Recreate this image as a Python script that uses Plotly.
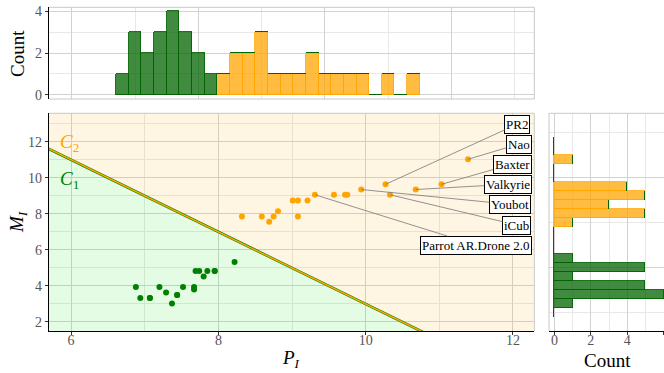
import numpy as np
import plotly.graph_objects as go

# ---------------- data ----------------
c1_x = [6.88, 6.94, 7.07, 7.07, 7.20, 7.29, 7.37, 7.44, 7.44, 7.52, 7.67, 7.67, 7.69, 7.74, 7.80, 7.85, 7.95, 7.95, 8.22]
c1_y = [3.94, 3.33, 3.33, 3.33, 3.94, 3.64, 3.03, 3.50, 3.50, 3.94, 3.94, 3.80, 4.83, 4.83, 4.53, 4.83, 4.83, 4.83, 5.33]
c2_x = [8.32, 8.59, 8.69, 8.75, 8.81, 9.01, 9.08, 9.08, 9.21, 9.31, 9.57, 9.72, 9.75, 9.94, 10.27, 10.33, 10.68, 11.03, 11.39]
c2_y = [7.85, 7.85, 7.56, 7.85, 8.14, 8.74, 8.74, 7.85, 8.74, 9.06, 9.06, 9.06, 9.06, 9.35, 9.64, 9.06, 9.35, 9.64, 11.03]

label_names = ["PR2", "Nao", "Baxter", "Valkyrie", "Youbot", "iCub", "Parrot AR.Drone 2.0"]
label_px = [10.27, 11.39, 11.03, 10.68, 9.94, 10.33, 9.31]
label_py = [9.64, 11.03, 9.64, 9.35, 9.35, 9.06, 9.06]
# label box centres (layout positions)
box_x = [12.06, 12.08, 11.99, 11.93, 11.96, 12.05, 11.50]
box_y = [12.98, 11.87, 10.76, 9.64, 8.53, 7.38, 6.27]

# decision boundary  P + M/2 = 11.5
boundary_const = 23.0
boundary_slope = -2.0

x_bin_start, x_bin_size, x_bin_n = 6.7, 0.2, 24
y_bin_start, y_bin_size, y_bin_n = 2.27, 0.5, 20

GREEN = "#008000"
DKGREEN = "#006400"
ORANGE = "#FFA500"
FONT = "Liberation Serif"
TICKC = "#555555"
GRID = "#d2d2d2"
MINOR = "#e8e8e8"
BORDER = "#c8c8c8"

# ---------------- histograms ----------------
xedges = x_bin_start + x_bin_size * np.arange(x_bin_n + 1)
yedges = y_bin_start + y_bin_size * np.arange(y_bin_n + 1)
xc = (xedges[:-1] + xedges[1:]) / 2
yc = (yedges[:-1] + yedges[1:]) / 2
hx1, _ = np.histogram(c1_x, bins=xedges)
hx2, _ = np.histogram(c2_x, bins=xedges)
hy1, _ = np.histogram(c1_y, bins=yedges)
hy2, _ = np.histogram(c2_y, bins=yedges)

fig = go.Figure()

# background regions
xa, xb = 5.0, 13.5
fig.add_trace(go.Scatter(
    x=[xa, xb, xb, xa], y=[boundary_const + boundary_slope * xa, boundary_const + boundary_slope * xb, 20, 20],
    fill="toself", fillcolor="rgba(255,165,0,0.11)", line=dict(width=0), mode="lines",
    hoverinfo="skip", showlegend=False, xaxis="x", yaxis="y"))
fig.add_trace(go.Scatter(
    x=[xa, xb, xa], y=[boundary_const + boundary_slope * xa, boundary_const + boundary_slope * xb, -10],
    fill="toself", fillcolor="rgba(0,230,0,0.11)", line=dict(width=0), mode="lines",
    hoverinfo="skip", showlegend=False, xaxis="x", yaxis="y"))
# boundary line
for col, w in [(GREEN, 2.6), (ORANGE, 1.6)]:
    fig.add_trace(go.Scatter(
        x=[xa, xb], y=[boundary_const + boundary_slope * xa, boundary_const + boundary_slope * xb],
        mode="lines", line=dict(color=col, width=w), hoverinfo="skip", showlegend=False,
        xaxis="x", yaxis="y"))

# points
fig.add_trace(go.Scatter(x=c1_x, y=c1_y, mode="markers", marker=dict(color=GREEN, size=6),
                         showlegend=False, xaxis="x", yaxis="y"))
fig.add_trace(go.Scatter(x=c2_x, y=c2_y, mode="markers", marker=dict(color=ORANGE, size=6),
                         showlegend=False, xaxis="x", yaxis="y"))

# top histogram (stacked: orange then green)
fig.add_trace(go.Bar(x=xc, y=hx2, width=x_bin_size, marker=dict(color="rgba(255,165,0,0.75)",
                     line=dict(color=ORANGE, width=0.8)), showlegend=False, xaxis="x2", yaxis="y2"))
fig.add_trace(go.Bar(x=xc, y=hx1, width=x_bin_size, marker=dict(color="rgba(0,100,0,0.75)",
                     line=dict(color=DKGREEN, width=0.9)), showlegend=False, xaxis="x2", yaxis="y2"))
# right histogram
fig.add_trace(go.Bar(y=yc, x=hy2, width=y_bin_size, orientation="h", marker=dict(color="rgba(255,165,0,0.75)",
                     line=dict(color=ORANGE, width=0.8)), showlegend=False, xaxis="x3", yaxis="y3"))
fig.add_trace(go.Bar(y=yc, x=hy1, width=y_bin_size, orientation="h", marker=dict(color="rgba(0,100,0,0.75)",
                     line=dict(color=DKGREEN, width=0.9)), showlegend=False, xaxis="x3", yaxis="y3"))

# ---------------- layout ----------------
W, H = 664, 373

def fx(px):
    return min(max(px / W, 0.0), 1.0)

def fy(py):
    return min(max(1 - py / H, 0.0), 1.0)

main_x = [fx(49), fx(534.3)]
main_y = [fy(331), fy(113.3)]
top_y = [fy(99), fy(7.3)]
right_x = [fx(549), 1.0]

tickfont = dict(family=FONT, size=14, color=TICKC)
titlefont = dict(family=FONT, size=19, color="black")

def grid_axis(**kw):
    d = dict(showgrid=True, gridcolor=GRID, gridwidth=1, zeroline=False, tickfont=tickfont,
             ticks="outside", ticklen=3, tickcolor="#333333", tickwidth=1, automargin=False)
    d.update(kw)
    return d

fig.update_layout(
    width=W, height=H, margin=dict(l=0, r=0, t=0, b=0, autoexpand=False),
    paper_bgcolor="white", plot_bgcolor="rgba(0,0,0,0)",
    barmode="stack", bargap=0, showlegend=False,
    font=dict(family=FONT),
    xaxis=grid_axis(domain=main_x, range=[5.70, 12.29], tickvals=[6, 8, 10, 12], anchor="y",
                    minor=dict(dtick=1, tick0=0, showgrid=True, gridcolor=MINOR, gridwidth=0.8),
                    showline=True, linecolor="black", linewidth=1.2, ticklabelstandoff=-7),
    yaxis=grid_axis(domain=main_y, range=[1.5, 13.58], tickvals=[2, 4, 6, 8, 10, 12], anchor="x",
                    minor=dict(dtick=1, tick0=0, showgrid=True, gridcolor=MINOR, gridwidth=0.8),
                    showline=True, linecolor="black", linewidth=1.2),
    xaxis2=grid_axis(domain=main_x, range=[5.64, 13.31], dtick=2, tick0=0, anchor="y2",
                     showticklabels=False, ticks="",
                     minor=dict(dtick=1, tick0=0, showgrid=True, gridcolor=MINOR, gridwidth=0.8)),
    yaxis2=grid_axis(domain=top_y, range=[-0.2, 4.2], tickvals=[0, 2, 4], anchor="x2",
                     minor=dict(dtick=1, tick0=0, showgrid=True, gridcolor=MINOR, gridwidth=0.8),
                     showline=True, linecolor="black", linewidth=1.2),
    xaxis3=grid_axis(domain=right_x, range=[-0.3, 6.02], tickvals=[0, 2, 4, 6], anchor="y3",
                     minor=dict(dtick=1, tick0=0, showgrid=True, gridcolor=MINOR, gridwidth=0.8),
                     showline=True, linecolor="black", linewidth=1.2, ticklabelstandoff=-7),
    yaxis3=grid_axis(domain=main_y, range=[1.5, 13.58], dtick=5, tick0=0, anchor="x3",
                     showticklabels=False, ticks="",
                     minor=dict(dtick=2.5, tick0=0, showgrid=True, gridcolor=MINOR, gridwidth=0.8)),
)

# axis titles
def ptitle(text, px, py, angle=0):
    fig.add_annotation(x=fx(px), y=fy(py), xref="paper", yref="paper", text=text,
                       showarrow=False, textangle=angle, font=titlefont,
                       xanchor="center", yanchor="middle")

ptitle("<i>P</i><sub><i>I</i></sub>", 291, 359)
ptitle("<i>M</i><sub><i>I</i></sub>", 18, 222, -90)
ptitle("Count", 18, 54, -90)
ptitle("Count", 607, 360)

# panel borders (non-axis sides)
def hline(xref, yref, y):
    fig.add_shape(type="line", xref=xref, yref=yref, x0=0, x1=1, y0=y, y1=y,
                  line=dict(color=BORDER, width=1), layer="above")

def vline(xref, yref, x):
    fig.add_shape(type="line", xref=xref, yref=yref, x0=x, x1=x, y0=0, y1=1,
                  line=dict(color=BORDER, width=1), layer="above")

hline("x domain", "y domain", 1); vline("x domain", "y domain", 1)
hline("x2 domain", "y2 domain", 1); hline("x2 domain", "y2 domain", 0); vline("x2 domain", "y2 domain", 1)
hline("x3 domain", "y3 domain", 1); vline("x3 domain", "y3 domain", 0)

# class labels
fig.add_annotation(x=5.98, y=11.93, xref="x", yref="y", text="<i>C</i><sub>2</sub>", showarrow=False,
                   font=dict(family=FONT, size=19, color=ORANGE))
fig.add_annotation(x=5.98, y=9.87, xref="x", yref="y", text="<i>C</i><sub>1</sub>", showarrow=False,
                   font=dict(family=FONT, size=19, color=GREEN))

# robot labels
for name, px, py, bx, by in zip(label_names, label_px, label_py, box_x, box_y):
    fig.add_annotation(x=px, y=py, ax=bx, ay=by, xref="x", yref="y", axref="x", ayref="y",
                       text=name, showarrow=True, arrowhead=0, arrowwidth=0.8, arrowcolor="#777777",
                       bgcolor="white", bordercolor="black", borderwidth=1, borderpad=1,
                       font=dict(family=FONT, size=13, color="black"))

# remove the browser's default 8px page margin so the figure starts at the page corner
fig.write_html("out.html", config={"displayModeBar": False},
               post_script="document.body.style.margin='0px';")
